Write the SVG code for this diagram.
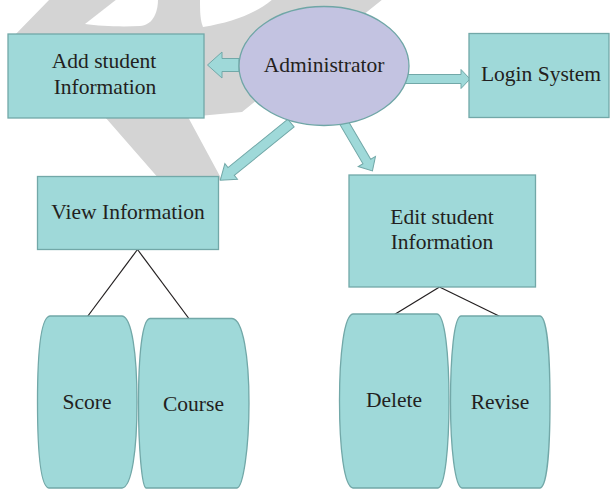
<svg xmlns="http://www.w3.org/2000/svg" width="610" height="489" viewBox="0 0 610 489">
<style>
.box{fill:#9fd9d9;stroke:#72a8a8;stroke-width:1.3}
.ell{fill:#c3c3e1;stroke:#6fa6a6;stroke-width:1.3}
.arr{fill:#9fd9d9;stroke:#72a8a8;stroke-width:1}
.lbl{font-family:"Liberation Serif","Times New Roman",serif;font-size:21.5px;fill:#231f20;text-anchor:middle}
.ln{stroke:#231f20;stroke-width:1.2;fill:none}
.wm{fill:#d4d4d4;stroke:none}
.wc{fill:#ffffff;stroke:none}
</style>
<g id="watermark">
<polygon class="wm" points="50,-1 383,-1 242,112 188,117 222,180 160,180 105,117 10,100 10,40"/>
<path class="wc" d="M85,24 L117,-1 L158,-1 C158,14 152,25 140,26 C120,27 100,26 85,24 Z"/>
<path class="wc" d="M200,-1 L273,-1 C255,14 232,22 203,27 C200,20 200,10 200,-1 Z"/>
</g>
<g id="connectors">
<polygon class="arr" points="239,58.5 222,58.5 222,52 207.5,65 222,78 222,71.5 239,71.5"/>
<polygon class="arr" points="405,74.5 461,74.5 461,69.5 470,79 461,88.5 461,83.5 405,83.5"/>
<polygon class="arr" transform="translate(291,123) rotate(141)" points="0,-5 77,-5 77,-10 91,0 77,10 77,5 0,5"/>
<polygon class="arr" transform="translate(343,121) rotate(59.5)" points="0,-4.5 47,-4.5 47,-10 58,0 47,10 47,4.5 0,4.5"/>
<line class="ln" x1="137.5" y1="249.5" x2="87.5" y2="316.5"/>
<line class="ln" x1="137.5" y1="249.5" x2="188.5" y2="318"/>
<line class="ln" x1="439.5" y1="287" x2="394.5" y2="314.5"/>
<line class="ln" x1="439.5" y1="287" x2="500" y2="316.5"/>
</g>
<g id="admin">
<ellipse class="ell" cx="324" cy="66" rx="85" ry="59.5"/>
<text class="lbl" x="324" y="71.5">Administrator</text>
</g>
<g id="add">
<rect class="box" x="8" y="34" width="196" height="84"/>
<text class="lbl" x="104" y="68">Add student</text>
<text class="lbl" x="105" y="94">Information</text>
</g>
<g id="login">
<rect class="box" x="469" y="33.5" width="140" height="84"/>
<text class="lbl" x="541" y="81">Login System</text>
</g>
<g id="view">
<rect class="box" x="37.5" y="176.5" width="181" height="73"/>
<text class="lbl" x="128" y="218.5">View Information</text>
</g>
<g id="edit">
<rect class="box" x="349" y="175" width="186.5" height="112"/>
<text class="lbl" x="442" y="223.5">Edit student</text>
<text class="lbl" x="442" y="248.5">Information</text>
</g>
<g id="score">
<path class="box" d="M50,316 L122,316 C132,317 137,355 137,402 C137,449 132,487 122,488 L49,488 C40,487 37.5,449 37.5,402 C37.5,355 40,317 50,316 Z"/>
<text class="lbl" x="87" y="408.5">Score</text>
</g>
<g id="course">
<path class="box" d="M150,318.5 L232,318.5 C243,319 249,357 249,403 C249,449 243,487 237,488 L146,488 C142,487 138.5,449 138.5,403 C138.5,357 142,319 150,318.5 Z"/>
<text class="lbl" x="193.5" y="411">Course</text>
</g>
<g id="delete">
<path class="box" d="M353,314 L437,314 C445,315 449,355 449,401 C449,447 445,487 438,488 L353,488 C344,487 339.5,447 339.5,401 C339.5,355 344,315 353,314 Z"/>
<text class="lbl" x="394" y="407">Delete</text>
</g>
<g id="revise">
<path class="box" d="M461,316 L540,316 C547,317 550,356 550,402 C550,448 547,487 540,488 L462,488 C455,487 450.5,448 450.5,402 C450.5,356 454,317 461,316 Z"/>
<text class="lbl" x="500" y="408.5">Revise</text>
</g>
</svg>
